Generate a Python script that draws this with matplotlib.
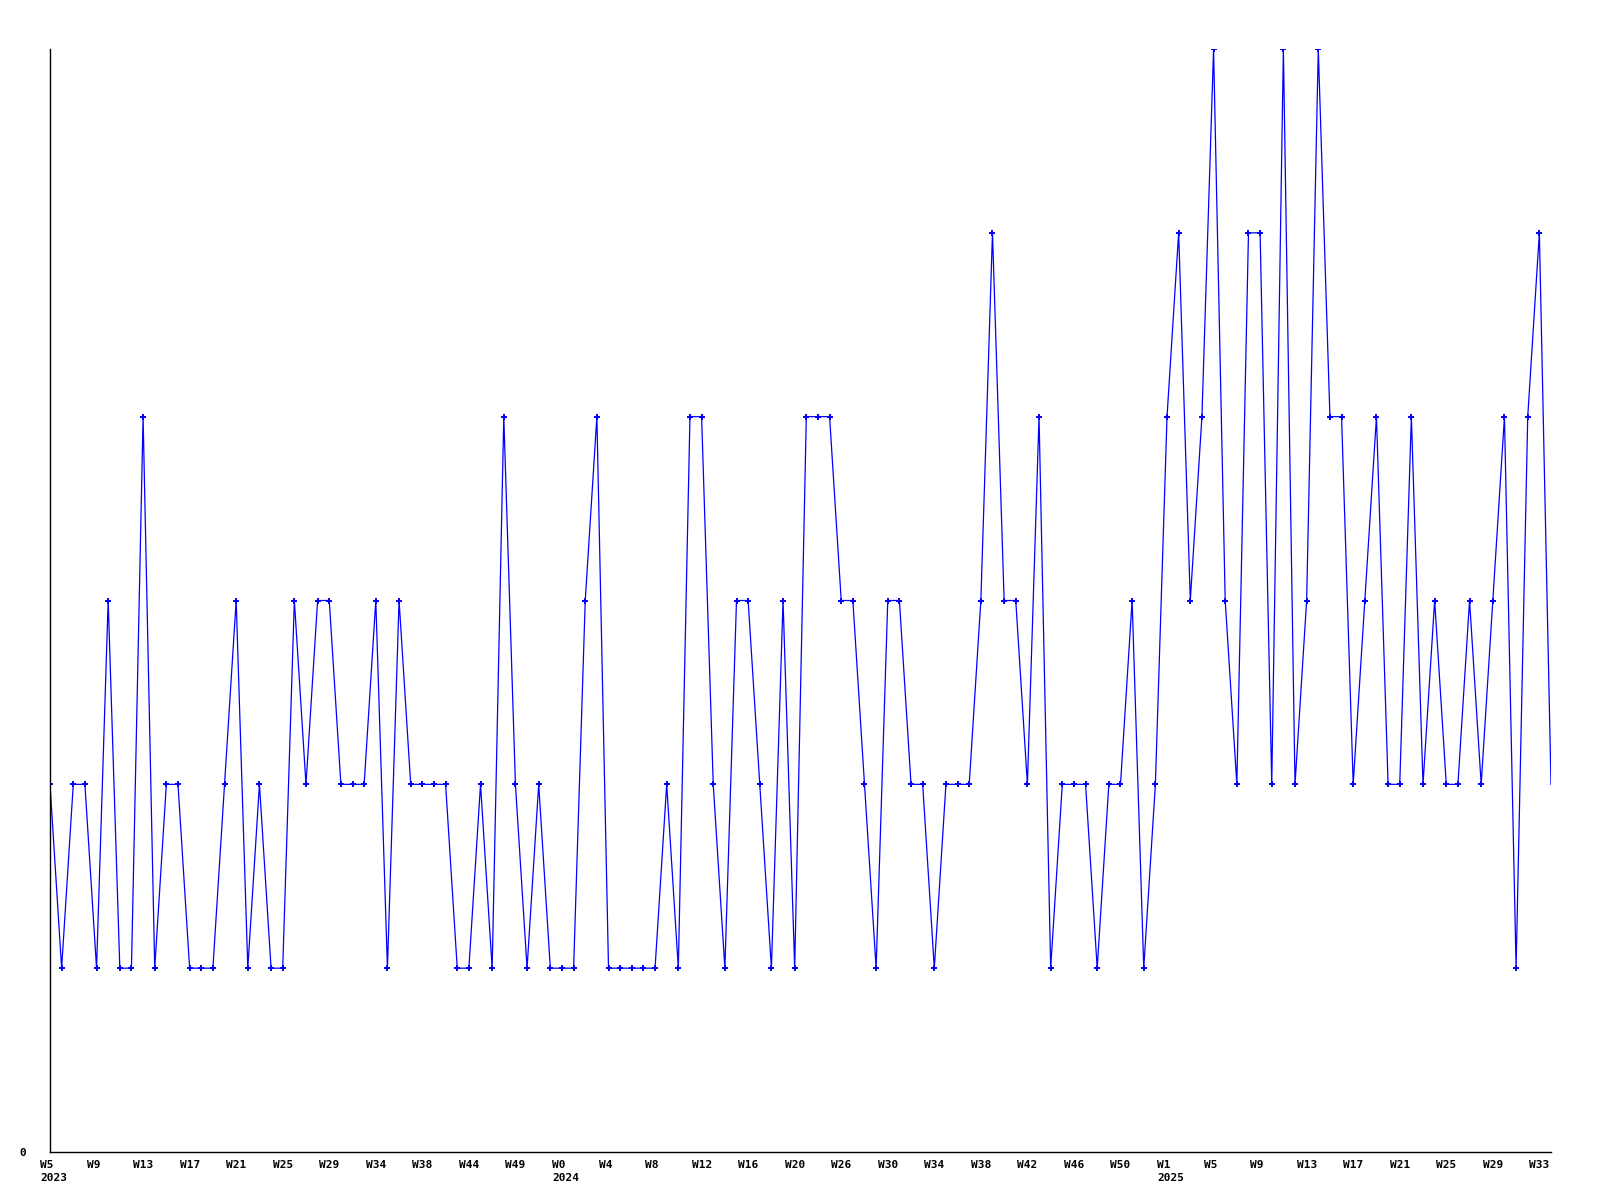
import matplotlib

matplotlib.use("Agg")

import matplotlib.pyplot as plt
import matplotlib.transforms as mtransforms

# weekly counts, one per week starting 2023 W5
values = [
    2, 1, 2, 2, 1, 3, 1, 1, 4, 1,
    2, 2, 1, 1, 1, 2, 3, 1, 2, 1,
    1, 3, 2, 3, 3, 2, 2, 2, 3, 1,
    3, 2, 2, 2, 2, 1, 1, 2, 1, 4,
    2, 1, 2, 1, 1, 1, 3, 4, 1, 1,
    1, 1, 1, 2, 1, 4, 4, 2, 1, 3,
    3, 2, 1, 3, 1, 4, 4, 4, 3, 3,
    2, 1, 3, 3, 2, 2, 1, 2, 2, 2,
    3, 5, 3, 3, 2, 4, 1, 2, 2, 2,
    1, 2, 2, 3, 1, 2, 4, 5, 3, 4,
    6, 3, 2, 5, 5, 2, 6, 2, 3, 6,
    4, 4, 2, 3, 4, 2, 2, 4, 2, 3,
    2, 2, 3, 2, 3, 4, 1, 4, 5, 2,
]

tick_labels = [
    "W5", "W9", "W13", "W17", "W21", "W25", "W29", "W34", "W38", "W44", "W49",
    "W0", "W4", "W8", "W12", "W16", "W20", "W26", "W30", "W34", "W38", "W42",
    "W46", "W50", "W1", "W5", "W9", "W13", "W17", "W21", "W25", "W29", "W33",
]
year_labels = {0: "2023", 11: "2024", 24: "2025"}
TICK_STEP = 4

FONT = dict(family="DejaVu Sans Mono", weight="bold", size=8)

fig = plt.figure(figsize=(16, 12), dpi=100)
fig.patch.set_facecolor("white")
ax = fig.add_axes([50 / 1600, 1 - 1152 / 1200, 1501 / 1600, 1103 / 1200])

xs = list(range(len(values)))
# the current (unfinished) week gets no marker
ax.plot(xs, values, color="#0000ff", linewidth=0.9,
        marker="+", markersize=4, markeredgewidth=1.4,
        markevery=list(range(len(values) - 1)))

ax.set_xlim(0, len(values) - 1)
ax.set_ylim(0, 6)

for side in ("top", "right"):
    ax.spines[side].set_visible(False)
for side in ("left", "bottom"):
    ax.spines[side].set_color("black")
    ax.spines[side].set_linewidth(1.0)

ax.set_xticks([])
ax.set_yticks([0])
ax.set_yticklabels(["0"], **FONT)
ax.tick_params(axis="y", length=0, pad=17)

trans = mtransforms.offset_copy(ax.get_xaxis_transform(), fig=fig,
                                x=-7.2, y=-5.5, units="points")
for i, lab in enumerate(tick_labels):
    text = lab
    if i in year_labels:
        text = lab + "\n" + year_labels[i]
    ax.text(i * TICK_STEP, 0, text, transform=trans, ha="left", va="top",
            multialignment="left", linespacing=1.45, clip_on=False, **FONT)

fig.savefig("out.png", dpi=100, facecolor="white")
